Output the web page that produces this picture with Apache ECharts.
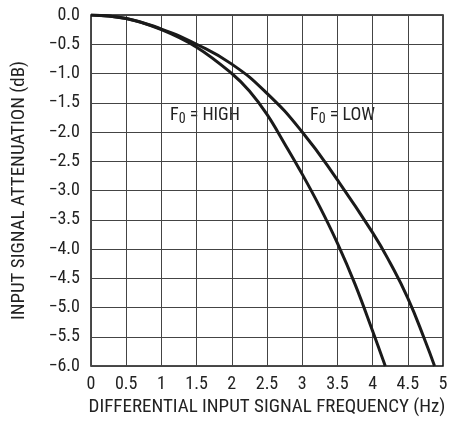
<!DOCTYPE html>
<html>
<head>
<meta charset="utf-8">
<script src="https://cdn.jsdelivr.net/npm/echarts@6/dist/echarts.min.js"></script>
<style>
  html, body { margin: 0; padding: 0; background: #fff; }
  #chart { width: 454px; height: 423px; }
</style>
</head>
<body>
<div id="chart"></div>
<script>
// frequency (Hz) vs attenuation (dB)
var freqHigh = [0, 0.5, 1, 1.5, 2, 2.25, 2.5, 2.75, 3, 3.25, 3.5, 3.75, 4, 4.18];
var attenHigh = [0, -0.06, -0.25, -0.55, -1.0, -1.3, -1.7, -2.2, -2.72, -3.28, -3.9, -4.6, -5.4, -6.0];
var freqLow = [0, 0.5, 1, 1.5, 2, 2.5, 3, 3.5, 4, 4.25, 4.5, 4.75, 4.88];
var attenLow = [0, -0.06, -0.24, -0.5, -0.84, -1.34, -2.0, -2.82, -3.72, -4.24, -4.84, -5.58, -6.0];

var FONT = "'Liberation Sans Narrow', 'Roboto Condensed', Roboto, sans-serif";

function pairs (xs, ys) {
  return xs.map(function (x, i) { return [x, ys[i]] })
}

var richLabel = {
  a: { fontFamily: FONT, fontSize: 18, fill: '#222', lineHeight: 20 },
  s: { fontFamily: FONT, fontSize: 14, fill: '#222', lineHeight: 20, padding: [8, 0, 0, 0] }
}

var chart = echarts.init(document.getElementById('chart'))
var option = {
  animation: false,
  backgroundColor: '#fff',
  textStyle: { fontFamily: FONT },
  grid: {
    left: 91, right: 11, top: 15, bottom: 57,
    show: true, borderColor: '#111', borderWidth: 1.5, backgroundColor: 'transparent'
  },
  xAxis: {
    type: 'value', min: 0, max: 5, interval: 0.5,
    name: 'DIFFERENTIAL INPUT SIGNAL FREQUENCY (Hz)',
    nameLocation: 'middle', nameGap: 26,
    nameTextStyle: { fontFamily: FONT, fontSize: 19, color: '#222' },
    axisLine: { show: false },
    axisTick: { show: false },
    axisLabel: { fontFamily: FONT, fontSize: 18, color: '#222', margin: 9 },
    splitLine: { lineStyle: { color: '#444', width: 1 } }
  },
  yAxis: {
    type: 'value', min: -6, max: 0, interval: 0.5,
    name: 'INPUT SIGNAL ATTENUATION (dB)',
    nameLocation: 'middle', nameGap: 62,
    nameTextStyle: { fontFamily: FONT, fontSize: 19, color: '#222' },
    axisLine: { show: false },
    axisTick: { show: false },
    axisLabel: {
      fontFamily: FONT, fontSize: 18, color: '#222', margin: 11,
      formatter: function (v) {
        return v === 0 ? '0.0' : '\u2212' + Math.abs(v).toFixed(1)
      }
    },
    splitLine: { lineStyle: { color: '#444', width: 1 } }
  },
  graphic: [
    {
      type: 'text', left: 170, top: 104,
      style: { text: '{a|F}{s|0}{a| = HIGH}', rich: richLabel }
    },
    {
      type: 'text', left: 310, top: 104,
      style: { text: '{a|F}{s|0}{a| = LOW}', rich: richLabel }
    }
  ],
  series: [
    {
      name: 'HIGH', type: 'line', smooth: 0.4, showSymbol: false,
      data: pairs(freqHigh, attenHigh),
      lineStyle: { color: '#1a1a1a', width: 3 }
    },
    {
      name: 'LOW', type: 'line', smooth: 0.5, showSymbol: false,
      data: pairs(freqLow, attenLow),
      lineStyle: { color: '#1a1a1a', width: 3 }
    }
  ]
}
chart.setOption(option)
</script>
</body>
</html>
